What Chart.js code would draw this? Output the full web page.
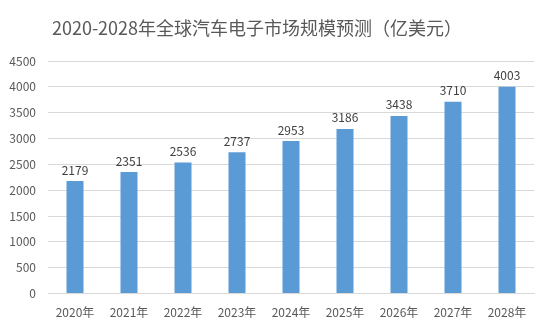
<!DOCTYPE html>
<html>
<head>
<meta charset="utf-8">
<script src="https://cdn.jsdelivr.net/npm/chart.js@4/dist/chart.umd.min.js"></script>
<style>
  html, body { margin: 0; padding: 0; background: #fff; }
  #wrap { width: 550px; height: 328px; }
</style>
</head>
<body>
<div id="wrap"><canvas id="market"></canvas></div>
<script>
// 全球汽车电子市场规模（亿美元）
const years = ['2020年', '2021年', '2022年', '2023年', '2024年', '2025年', '2026年', '2027年', '2028年'];
const marketSize = [2179, 2351, 2536, 2737, 2953, 3186, 3438, 3710, 4003];
const yTicks = [0, 500, 1000, 1500, 2000, 2500, 3000, 3500, 4000, 4500];
const titleText = '2020-2028年全球汽车电子市场规模预测（亿美元）';

const FONT = "'Noto Sans CJK SC', 'Noto Sans', sans-serif";
const BAR = '#5b9bd5';
const TEXT = '#595959';

// 标题：略偏左，不随绘图区居中
const chartTitle = {
  id: 'chartTitle',
  beforeDraw(chart) {
    const { ctx } = chart;
    ctx.save();
    ctx.font = '18px ' + FONT;
    ctx.fillStyle = TEXT;
    ctx.textAlign = 'center';
    ctx.textBaseline = 'middle';
    ctx.fillText(titleText, 257, 28);
    ctx.restore();
  }
};

// 柱顶数值
const valueLabels = {
  id: 'valueLabels',
  afterDatasetsDraw(chart) {
    const { ctx } = chart;
    const meta = chart.getDatasetMeta(0);
    ctx.save();
    ctx.font = '12px ' + FONT;
    ctx.fillStyle = '#404040';
    ctx.textAlign = 'center';
    ctx.textBaseline = 'bottom';
    meta.data.forEach((bar, i) => {
      ctx.fillText(String(marketSize[i]), bar.x, bar.y - 5);
    });
    ctx.restore();
  }
};

new Chart(document.getElementById('market'), {
  type: 'bar',
  data: {
    labels: years,
    datasets: [{
      data: marketSize,
      backgroundColor: BAR,
      borderWidth: 0,
      barPercentage: 0.6,
      categoryPercentage: 0.525
    }]
  },
  options: {
    responsive: true,
    maintainAspectRatio: false,
    animation: false,
    layout: { padding: { left: 0, right: 16, top: 61, bottom: 4 } },
    plugins: {
      legend: { display: false },
      tooltip: { enabled: false },
      title: { display: false }
    },
    scales: {
      y: {
        min: 0,
        max: 4500,
        afterBuildTicks: axis => { axis.ticks = yTicks.map(v => ({ value: v })); },
        afterFit: axis => { axis.width = 48; },
        ticks: {
          color: TEXT,
          font: { family: FONT, size: 12 },
          padding: 12,
          callback: v => String(v)
        },
        grid: { color: '#d9d9d9', drawTicks: false },
        border: { display: false }
      },
      x: {
        ticks: {
          color: TEXT,
          font: { family: FONT, size: 12 },
          padding: 4
        },
        grid: { display: false },
        border: { color: '#d9d9d9' }
      }
    }
  },
  plugins: [chartTitle, valueLabels]
});
</script>
</body>
</html>
